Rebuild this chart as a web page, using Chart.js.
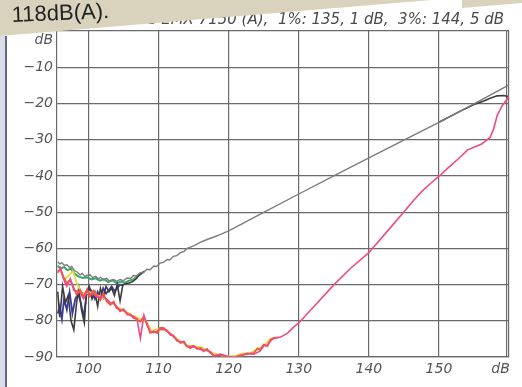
<!DOCTYPE html>
<html>
<head>
<meta charset="utf-8">
<script src="https://cdn.jsdelivr.net/npm/chart.js@4.4.0/dist/chart.umd.min.js"></script>
<style>
  html, body { margin: 0; padding: 0; background: #fff; }
  #wrap { width: 522px; height: 387px; }
</style>
</head>
<body>
<div id="wrap"><canvas id="myChart" width="522" height="387"></canvas></div>
<script>
// tick labels
const xTicks = [100, 110, 120, 130, 140, 150, 158.8, 159.6, 160];
const xTickLabels = { 100: '100', 110: '110', 120: '120', 130: '130', 140: '140', 150: '150', 158.8: 'dB' };
const yTicks = [-90, -80, -70, -60, -50, -40, -30, -20, -10, -2.5, 0];
const yTickLabels = { '-90': '\u221290', '-80': '\u221280', '-70': '\u221270', '-60': '\u221260', '-50': '\u221250',
  '-40': '\u221240', '-30': '\u221230', '-20': '\u221220', '-10': '\u221210', '-2.5': 'dB' };
const titleText = 's EMX 7150 (A),  1%: 135, 1 dB,  3%: 144, 5 dB';
const noteText = '118dB(A).';

// upper grey line
const grayLevel = [95.6, 95.9, 96.2, 96.6, 96.9, 97.3, 97.6, 98.0, 98.4, 98.8, 99.1, 99.5, 99.8, 100.2, 100.6, 101.0,
  101.4, 101.7, 102.1, 102.6, 103.0, 103.6, 104.0, 104.5, 105.0, 105.5, 106.0, 106.4, 106.9, 107.4, 107.8, 108.3,
  108.8, 109.3, 109.7, 110.2, 110.7, 111.2, 111.6, 112.1, 112.6, 113.1, 113.6, 114.0, 115, 116, 117, 118, 119, 120,
  125, 130, 135, 140, 145, 150, 155, 160];
const grayDb = [-63.7, -64.3, -64.0, -64.8, -64.5, -65.3, -65.0, -66.2, -66.6, -67.3, -66.9, -67.8, -67.4, -67.3, -68.1, -67.7,
  -68.4, -68.0, -68.7, -68.3, -69.0, -68.6, -69.1, -68.6, -68.9, -68.2, -68.3, -67.5, -67.6, -66.7, -66.8, -65.8,
  -65.9, -64.9, -65.0, -64.1, -63.9, -63.1, -63.2, -62.2, -62.0, -61.2, -60.9, -60.1, -59.3, -58.3, -57.5, -56.8, -56.0, -55.2,
  -50.1, -45.0, -40.0, -35.0, -30.1, -25.2, -20.1, -14.9];

// dark line (noisy start, flattening end)
const darkLevel = [95.6, 95.9, 96.3, 96.7, 97.1, 97.5, 97.9, 98.3, 98.6, 99.0, 99.4, 99.7, 100.1, 100.5, 100.9, 101.3,
  101.7, 102.1, 102.5, 102.9, 103.3, 103.7, 104.1, 104.5, 104.9, 105.3, 105.8, 106.3, 106.8, 107.3, 108.0, 120,
  150, 153, 155, 156.4, 157.4, 158.3, 159.3, 160];
const darkDb = [-72, -79, -70.5, -75, -73, -80, -82.5, -75, -71, -77, -80.5, -72, -70.5, -74, -72, -76,
  -71, -73.5, -70.5, -72, -71, -73, -70, -74.5, -70, -69.8, -69.6, -69.2, -68.4, -67.2, -66.3, null,
  -25.2, -22.2, -20.3, -19.3, -18.5, -17.9, -17.8, -18.2];

// blue line
const blueLevel = [95.6, 95.9, 96.2, 96.5, 96.9, 97.3, 97.7, 98.1, 98.5, 98.9, 99.3, 99.7, 100.1, 100.5, 100.9, 101.3,
  101.7, 102.1, 102.5, 102.9, 103.3, 103.7, 104.1, 104.5, 105.0];
const blueDb = [-78, -76, -79.5, -74, -77, -72, -78, -74, -72.5, -75, -79, -73, -71, -72, -74, -72,
  -74, -71, -72.5, -71.5, -70.5, -71.8, -71, -70, -70.3];

// green line
const greenLevel = [95.6, 96.0, 96.5, 97.0, 97.5, 98.0, 98.6, 99.2, 99.8, 100.4, 101.0, 101.6, 102.2, 102.8, 103.4, 104.0,
  104.6, 105.2, 105.8, 106.4, 107.0, 107.6];
const greenDb = [-64.8, -65.6, -65.2, -66.0, -65.6, -67.0, -67.8, -68.2, -68.0, -68.6, -68.3, -68.9, -68.5, -69.3, -68.8, -69.6,
  -69.2, -69.5, -68.9, -68.6, -67.6, -67.0];

// yellow line
const yellowLevel = [96.0, 96.6, 97.2, 97.8, 98.3, 98.9, 99.5, 100.1, 100.7, 101.3, 101.9, 102.5, 103.1, 103.7, 104.3, 105.0,
  106.0, 107.0, 107.6, 108.2, 109, 110, 111, 112, 113, 114, 115, 116, 117, 118, 119, 120, 121, 122, 123, 124, 125, 126, 126.6];
const yellowDb = [-66.5, -68.5, -67.5, -66.2, -69.5, -72, -72.5, -72.3, -72, -73, -73.5, -74.0, -75.0, -75.5, -76.5, -77.0,
  -78.3, -79.2, -79.8, -80.1, -82.8, -82.2, -82.7, -84.0, -85.6, -86.8, -87.0, -87.3, -88.2, -89.1, -89.6, -89.8, -89.7,
  -89.0, -89.0, -88.0, -86.9, -84.9, -84.6];

// red / orange line
const redLevel = [95.6, 96.0, 96.4, 96.9, 97.4, 97.9, 98.3, 98.8, 99.3, 99.8, 100.2, 100.7, 101.2, 101.7, 102.1, 102.6,
  103.1, 103.6, 104.0, 104.5, 105.0, 105.5, 106.0, 106.4, 106.9, 107.4, 107.9, 108.3, 108.8, 109.3, 109.8, 110.2,
  110.7, 111.2, 111.7, 112.1, 112.6, 113.1, 113.6, 114.0, 114.5, 115.0, 115.5, 116.0, 116.4, 116.9, 117.4, 117.9,
  118.8, 119.8, 120.7, 121.7, 122.6, 123.6, 124.1, 124.5, 125.0, 125.5, 126.0, 126.4, 127.0];
const redDb = [-66.4, -65.8, -67.8, -69.6, -68.7, -71.0, -72.8, -71.5, -73.3, -71.3, -73.3, -71.7, -72.8, -74.2, -72.4, -74.7,
  -75.6, -74.7, -76.5, -77.0, -77.2, -77.9, -78.6, -78.8, -79.7, -80.2, -78.8, -80.6, -83.4, -82.9, -83.4, -82.0,
  -82.0, -82.9, -83.6, -84.3, -85.2, -86.1, -85.7, -87.1, -87.2, -86.9, -87.8, -87.5, -88.4, -87.8, -88.9, -89.6,
  -89.4, -90.0, -90.2, -89.5, -89.2, -88.9, -87.6, -88.0, -86.6, -87.0, -85.2, -84.8, -84.6];

// pink line
const pinkLevel = [95.6, 96.0, 96.4, 96.9, 97.4, 97.9, 98.3, 98.8, 99.3, 99.8, 100.2, 100.7, 101.2, 101.7, 102.1, 102.6,
  103.1, 103.6, 104.0, 104.5, 105.0, 105.5, 106.0, 106.4, 106.9, 107.4, 107.9, 108.3, 108.8, 109.3, 109.8, 110.2,
  110.7, 111.2, 111.7, 112.1, 112.6, 113.1, 113.6, 114.0, 114.5, 115.0, 115.5, 116.0, 116.4, 116.9, 117.4, 117.9,
  118.8, 119.8, 120.7, 121.7, 122.6, 123.6, 124.5, 125.0, 125.5, 126.0, 126.4, 127.4, 128.4, 129.3, 130.0, 132.2,
  135.0, 137.4, 140.0, 142.5, 144.9, 146.4, 147.6, 148.8, 149.9, 151.3, 152.7, 154.1, 155.6, 156.1, 157.3, 157.8,
  158.3, 159.0, 159.7, 160.0];
const pinkDb = [-66.8, -65.4, -68.3, -70.5, -68.4, -71.6, -71.8, -72.2, -74.0, -71.8, -72.6, -72.5, -73.5, -73.4, -73.3, -74.1,
  -75.0, -75.3, -76.0, -77.4, -76.8, -78.3, -78.2, -79.3, -79.4, -84.8, -78.5, -81.0, -83.0, -83.3, -82.9, -82.3,
  -82.4, -82.6, -84.0, -84.0, -85.5, -85.8, -86.0, -86.8, -87.6, -87.2, -87.5, -87.9, -88.1, -88.2, -88.6, -89.8,
  -89.2, -89.8, -90.1, -89.7, -89.0, -89.2, -88.3, -86.9, -86.8, -85.5, -84.9, -84.5, -83.4, -81.7, -80.6, -76.0,
  -70.1, -65.5, -61.2, -55.6, -50.2, -46.7, -44.2, -42.1, -40.3, -37.8, -35.4, -32.8, -31.6, -31.2, -29.4, -27.1,
  -23.4, -20.7, -18.9, -18.0];

function pts(lv, db) {
  return lv.map((v, i) => ({ x: v, y: db[i] }));
}

const lineBase = { pointRadius: 0, fill: false, tension: 0, spanGaps: false };

const decor = {
  id: 'decor',
  beforeDraw(chart) {
    const c = chart.ctx;
    c.save();
    c.fillStyle = '#ffffff';
    c.fillRect(0, 0, chart.width, chart.height);
    c.restore();
  },
  afterDraw(chart) {
    const c = chart.ctx;
    c.save();
    // heading of the sheet
    c.font = 'italic 15px "DejaVu Sans"';
    c.fillStyle = '#4a4a4a';
    c.textAlign = 'right';
    c.textBaseline = 'alphabetic';
    c.fillText(titleText, 504, 24);
    // paper scrap on top
    c.fillStyle = '#d9d3bd';
    c.beginPath();
    c.moveTo(0, 0); c.lineTo(432, 0); c.lineTo(0, 36); c.closePath();
    c.fill();
    c.beginPath();
    c.moveTo(462, 0); c.lineTo(522, 0); c.lineTo(522, 3); c.lineTo(462, 8); c.closePath();
    c.fill();
    c.translate(12, 22);
    c.rotate(-0.04);
    c.font = '22px "Liberation Sans"';
    c.fillStyle = '#222';
    c.textAlign = 'left';
    c.fillText(noteText, 0, 0);
    c.restore();
    // left strip
    c.save();
    c.fillStyle = '#dcdde8';
    c.fillRect(0, 36, 5, chart.height - 36);
    c.fillStyle = '#5e6880';
    c.fillRect(5, 36, 2, chart.height - 36);
    c.restore();
  }
};

const gridColor = (ctx) => {
  const v = ctx.tick ? ctx.tick.value : null;
  return (v === 158.8 || v === -2.5) ? 'rgba(0,0,0,0)' : '#6a6a6a';
};

const tickFont = { family: 'DejaVu Sans', style: 'italic', size: 14 };

const ctx = document.getElementById('myChart').getContext('2d');
const myChart = new Chart(ctx, {
  type: 'line',
  data: {
    datasets: [
      { ...lineBase, label: 'grey', data: pts(grayLevel, grayDb), borderColor: '#7c7c7c', borderWidth: 1.4, order: 1 },
      { ...lineBase, label: 'pink', data: pts(pinkLevel, pinkDb), borderColor: '#ef4a86', borderWidth: 1.6, order: 2 },
      { ...lineBase, label: 'red', data: pts(redLevel, redDb), borderColor: '#f05a32', borderWidth: 1.8, order: 3 },
      { ...lineBase, label: 'yellow', data: pts(yellowLevel, yellowDb), borderColor: '#dcdc3c', borderWidth: 1.8, order: 4 },
      { ...lineBase, label: 'dark', data: pts(darkLevel, darkDb), borderColor: '#3c3c3c', borderWidth: 1.6, order: 5 },
      { ...lineBase, label: 'blue', data: pts(blueLevel, blueDb), borderColor: '#3a3aa0', borderWidth: 1.8, order: 6 },
      { ...lineBase, label: 'green', data: pts(greenLevel, greenDb), borderColor: '#3aa866', borderWidth: 2, order: 7 }
    ]
  },
  options: {
    responsive: false,
    animation: false,
    events: [],
    layout: { padding: { left: 0, top: 31, right: 13, bottom: 0 } },
    plugins: { legend: { display: false }, title: { display: false }, tooltip: { enabled: false } },
    scales: {
      x: {
        type: 'linear',
        min: 95.5,
        max: 160,
        afterBuildTicks: (s) => { s.ticks = xTicks.map(v => ({ value: v })); },
        afterFit: (s) => { s.height = 30; },
        grid: { color: gridColor, lineWidth: 1.2, drawTicks: false },
        border: { color: '#6a6a6a', width: 1.2 },
        ticks: {
          autoSkip: false, maxRotation: 0, padding: 4, color: '#555', font: tickFont,
          callback: (v) => xTickLabels[v] || ''
        }
      },
      y: {
        type: 'linear',
        min: -90,
        max: 0,
        afterBuildTicks: (s) => { s.ticks = yTicks.map(v => ({ value: v })); },
        afterFit: (s) => { s.width = 57; },
        grid: { color: gridColor, lineWidth: 1.2, drawTicks: false },
        border: { color: '#6a6a6a', width: 1.2 },
        ticks: {
          autoSkip: false, padding: 4, color: '#555', font: tickFont,
          callback: (v) => yTickLabels[String(v)] || ''
        }
      }
    }
  },
  plugins: [decor]
});
</script>
</body>
</html>
